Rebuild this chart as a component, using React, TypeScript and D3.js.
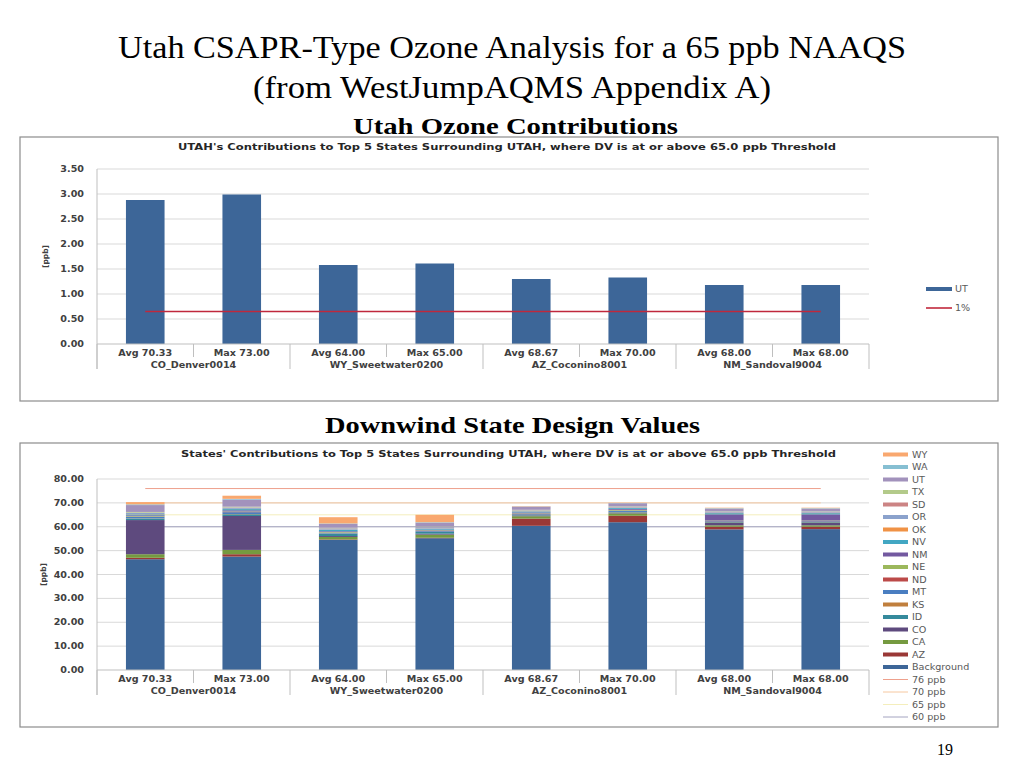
import React from "react";
import * as d3 from "d3";

const W = 1024;
const H = 768;

const categories = [
  "Avg 70.33",
  "Max 73.00",
  "Avg 64.00",
  "Max 65.00",
  "Avg 68.67",
  "Max 70.00",
  "Avg 68.00",
  "Max 68.00",
];
const monitors = ["CO_Denver0014", "WY_Sweetwater0200", "AZ_Coconino8001", "NM_Sandoval9004"];

// top chart
const utahContribution = [2.88, 2.99, 1.58, 1.61, 1.3, 1.33, 1.18, 1.18];
const onePercent = 0.65;
const topTicks = [0, 0.5, 1, 1.5, 2, 2.5, 3, 3.5];

// bottom chart, stacked by state (bottom to top)
const states = ["Background", "AZ", "CA", "CO", "ID", "KS", "MT", "ND", "NE", "NM", "NV", "OK", "OR", "SD", "TX", "UT", "WA", "WY"];
const stateColors = [
  "#3d6698", "#9a3836", "#759a40", "#5e4a7e", "#358a9c", "#c07f3d", "#4a7ec1", "#bc4a49", "#9cb85c",
  "#7359a0", "#42a7c3", "#f09245", "#8ba2cc", "#cc8484", "#b3ca8a", "#a292bc", "#86bfd2", "#f9a86f",
];
const background = [46.4, 47.5, 54.5, 55.2, 60.4, 61.9, 58.9, 59.0];
const az = [0.6, 1.0, 0.2, 0.2, 3.0, 2.7, 1.1, 1.0];
const ca = [1.5, 1.8, 1.0, 1.3, 1.0, 1.0, 0.6, 0.6];
const co = [14.3, 14.2, 0.4, 0.4, 0.3, 0.3, 1.0, 1.0];
const id = [0.6, 0.7, 1.0, 0.7, 0.2, 0.2, 0.3, 0.3];
const ks = [0.1, 0.1, 0.1, 0.1, 0.1, 0.1, 0.1, 0.1];
const mt = [0.7, 0.8, 0.3, 0.3, 0.3, 0.5, 0.3, 0.3];
const nd = [0.1, 0.1, 0.1, 0.1, 0.1, 0.1, 0.1, 0.1];
const ne = [0.2, 0.2, 0.2, 0.2, 0.2, 0.3, 0.2, 0.2];
const nm = [0.3, 0.5, 0.3, 0.3, 0.4, 0.4, 2.6, 2.6];
const nv = [0.4, 0.5, 0.6, 0.4, 0.4, 0.4, 0.5, 0.5];
const ok = [0.1, 0.1, 0.1, 0.1, 0.1, 0.1, 0.1, 0.1];
const or = [0.5, 0.5, 0.5, 0.5, 0.3, 0.2, 0.3, 0.3];
const sd = [0.1, 0.1, 0.1, 0.1, 0.1, 0.1, 0.1, 0.1];
const tx = [0.3, 0.3, 0.2, 0.2, 0.2, 0.2, 0.2, 0.2];
const ut = [2.88, 2.99, 1.58, 1.61, 1.3, 1.33, 1.18, 1.18];
const wa = [0.3, 0.3, 0.2, 0.2, 0.1, 0.1, 0.2, 0.2];
const wy = [0.95, 1.31, 2.62, 3.09, 0.14, 0.07, 0.2, 0.2];
const stateValues = [background, az, ca, co, id, ks, mt, nd, ne, nm, nv, ok, or, sd, tx, ut, wa, wy];

const refLevels = [76, 70, 65, 60];
const refLabels = ["76 ppb", "70 ppb", "65 ppb", "60 ppb"];
const refColors = ["#eea08c", "#f6c8a0", "#f4eebc", "#a4a4c0"];
const bottomTicks = [0, 10, 20, 30, 40, 50, 60, 70, 80];

const FONT = "'DejaVu Sans', Verdana, sans-serif";
const SERIF = "'Liberation Serif', 'Times New Roman', serif";
const TXT = "#404040";
const GRID = "#d9d9d9";
const SX = 1.2; // the slide image is stretched horizontally

const PLOT_L = 97;
const PLOT_R = 869;

const x = d3
  .scaleBand<string>()
  .domain(categories)
  .range([PLOT_L, PLOT_R])
  .paddingInner(0.6)
  .paddingOuter(0.3);

// text stretched horizontally like the picture
const T = ({ x, y, children, ...rest }: any) => (
  <text transform={`translate(${x},${y}) scale(${SX},1)`} {...rest}>
    {children}
  </text>
);

const CategoryAxis = ({ y0 }: { y0: number }) => {
  const step = x.step();
  return (
    <g fontFamily={FONT} fontSize={8} fontWeight="bold" fill={TXT} textAnchor="middle">
      <line x1={PLOT_L} x2={PLOT_R} y1={y0} y2={y0} stroke="#bfbfbf" />
      {categories.map((c) => (
        <T key={c} x={(x(c) as number) + x.bandwidth() / 2} y={y0 + 11.5}>
          {c}
        </T>
      ))}
      {d3.range(categories.length + 1).map((i) => (
        <line
          key={i}
          x1={PLOT_L + i * step}
          x2={PLOT_L + i * step}
          y1={y0}
          y2={y0 + (i % 2 === 0 ? 25 : 13)}
          stroke="#bfbfbf"
        />
      ))}
      {monitors.map((m, i) => (
        <T key={m} x={PLOT_L + (i * 2 + 1) * step} y={y0 + 24}>
          {m}
        </T>
      ))}
    </g>
  );
};

const ValueTicks = ({ y, ticks }: { y: d3.ScaleLinear<number, number>; ticks: number[] }) => (
  <g>
    {ticks.map((t) => (
      <g key={t}>
        {t > 0 && <line x1={PLOT_L} x2={PLOT_R} y1={y(t)} y2={y(t)} stroke={GRID} />}
        <T x={84} y={y(t) + 3} textAnchor="end" fontFamily={FONT} fontSize={8} fontWeight="bold" fill={TXT}>
          {t.toFixed(2)}
        </T>
      </g>
    ))}
  </g>
);

const TopChart = () => {
  const y = d3.scaleLinear().domain([0, 3.5]).range([344, 169]);
  const cx0 = (x(categories[0]) as number) + x.bandwidth() / 2;
  const cx1 = (x(categories[categories.length - 1]) as number) + x.bandwidth() / 2;
  return (
    <g>
      <rect x={20} y={137} width={978} height={264} fill="#fff" stroke="#8c8c8c" strokeWidth={1.2} />
      <text
        x={178}
        y={150}
        textLength={658}
        lengthAdjust="spacingAndGlyphs"
        fontFamily={FONT}
        fontSize={9.5}
        fontWeight="bold"
        fill="#262626"
      >
        UTAH's Contributions to Top 5 States Surrounding UTAH, where DV is at or above 65.0 ppb Threshold
      </text>
      <ValueTicks y={y} ticks={topTicks} />
      <line x1={PLOT_L} x2={PLOT_L} y1={y(3.5)} y2={369} stroke="#bfbfbf" />
      <text
        transform={`translate(48,${y(1.75)}) rotate(-90)`}
        textAnchor="middle"
        fontFamily={FONT}
        fontSize={7.5}
        fontWeight="bold"
        fill={TXT}
      >
        [ppb]
      </text>
      {categories.map((c, i) => (
        <rect
          key={c}
          x={x(c)}
          y={y(utahContribution[i])}
          width={x.bandwidth()}
          height={y(0) - y(utahContribution[i])}
          fill="#3d6698"
        />
      ))}
      <line x1={cx0} x2={cx1} y1={y(onePercent)} y2={y(onePercent)} stroke="#c0283c" strokeWidth={1.6} />
      <CategoryAxis y0={344} />
      <g fontFamily={FONT} fontSize={8} fill="#595959">
        <rect x={926} y={287} width={26} height={4} fill="#3d6698" />
        <T x={955} y={292}>UT</T>
        <line x1={926} x2={952} y1={308} y2={308} stroke="#c0283c" strokeWidth={1.6} />
        <T x={955} y={311}>1%</T>
      </g>
    </g>
  );
};

const BottomChart = () => {
  const y = d3.scaleLinear().domain([0, 80]).range([670, 479]);
  const rows = categories.map((c, i) => {
    const r: Record<string, number | string> = { cat: c };
    states.forEach((s, k) => (r[s] = stateValues[k][i]));
    return r;
  });
  const series = d3.stack<Record<string, number | string>>().keys(states)(rows as any);
  const cx0 = (x(categories[0]) as number) + x.bandwidth() / 2;
  const cx1 = (x(categories[categories.length - 1]) as number) + x.bandwidth() / 2;
  const legendItems = [...states].reverse();
  const legendColors = [...stateColors].reverse();
  const rowY = (i: number) => 454.5 + i * 12.5;
  return (
    <g>
      <rect x={20} y={443} width={978} height={284} fill="#fff" stroke="#8c8c8c" strokeWidth={1.2} />
      <text
        x={181}
        y={457}
        textLength={655}
        lengthAdjust="spacingAndGlyphs"
        fontFamily={FONT}
        fontSize={9.5}
        fontWeight="bold"
        fill="#262626"
      >
        States' Contributions to Top 5 States Surrounding UTAH, where DV is at or above 65.0 ppb Threshold
      </text>
      <ValueTicks y={y} ticks={bottomTicks} />
      {refLevels.map((v, i) => (
        <line key={v} x1={cx0} x2={cx1} y1={y(v)} y2={y(v)} stroke={refColors[i]} strokeWidth={1} />
      ))}
      <line x1={PLOT_L} x2={PLOT_L} y1={y(80)} y2={695} stroke="#bfbfbf" />
      <text
        transform={`translate(46,${y(40)}) rotate(-90)`}
        textAnchor="middle"
        fontFamily={FONT}
        fontSize={7.5}
        fontWeight="bold"
        fill={TXT}
      >
        [ppb]
      </text>
      {series.map((s, k) => (
        <g key={states[k]} fill={stateColors[k]}>
          {s.map((d, i) => (
            <rect
              key={i}
              x={x(categories[i])}
              y={y(d[1])}
              width={x.bandwidth()}
              height={Math.max(0, y(d[0]) - y(d[1]))}
            />
          ))}
        </g>
      ))}
      <CategoryAxis y0={670} />
      <g fontFamily={FONT} fontSize={8} fill="#595959">
        {legendItems.map((s, i) => (
          <g key={s}>
            <rect x={883} y={rowY(i) - 2} width={25} height={4} fill={legendColors[i]} />
            <T x={912} y={rowY(i) + 3}>
              {s}
            </T>
          </g>
        ))}
        {refLabels.map((s, i) => (
          <g key={s}>
            <line
              x1={883}
              x2={908}
              y1={rowY(legendItems.length + i)}
              y2={rowY(legendItems.length + i)}
              stroke={refColors[i]}
            />
            <T x={912} y={rowY(legendItems.length + i) + 3}>
              {s}
            </T>
          </g>
        ))}
      </g>
    </g>
  );
};

export default function App() {
  return (
    <svg
      width={W}
      height={H}
      viewBox={`0 0 ${W} ${H}`}
      style={{ position: "absolute", left: 0, top: 0, background: "#fff" }}
    >
      <rect width={W} height={H} fill="#fff" />
      <g fontFamily={SERIF} fill="#000">
        <text x={118} y={58} fontSize={31} textLength={788} lengthAdjust="spacingAndGlyphs">
          Utah CSAPR-Type Ozone Analysis for a 65 ppb NAAQS
        </text>
        <text x={253} y={98} fontSize={31} textLength={518} lengthAdjust="spacingAndGlyphs">
          (from WestJumpAQMS Appendix A)
        </text>
        <text x={353} y={134} fontSize={23} fontWeight="bold" textLength={325} lengthAdjust="spacingAndGlyphs">
          Utah Ozone Contributions
        </text>
        <text x={325} y={433} fontSize={23} fontWeight="bold" textLength={375} lengthAdjust="spacingAndGlyphs">
          Downwind State Design Values
        </text>
        <text x={945} y={755} fontSize={16} textAnchor="middle">
          19
        </text>
      </g>
      <TopChart />
      <BottomChart />
    </svg>
  );
}
